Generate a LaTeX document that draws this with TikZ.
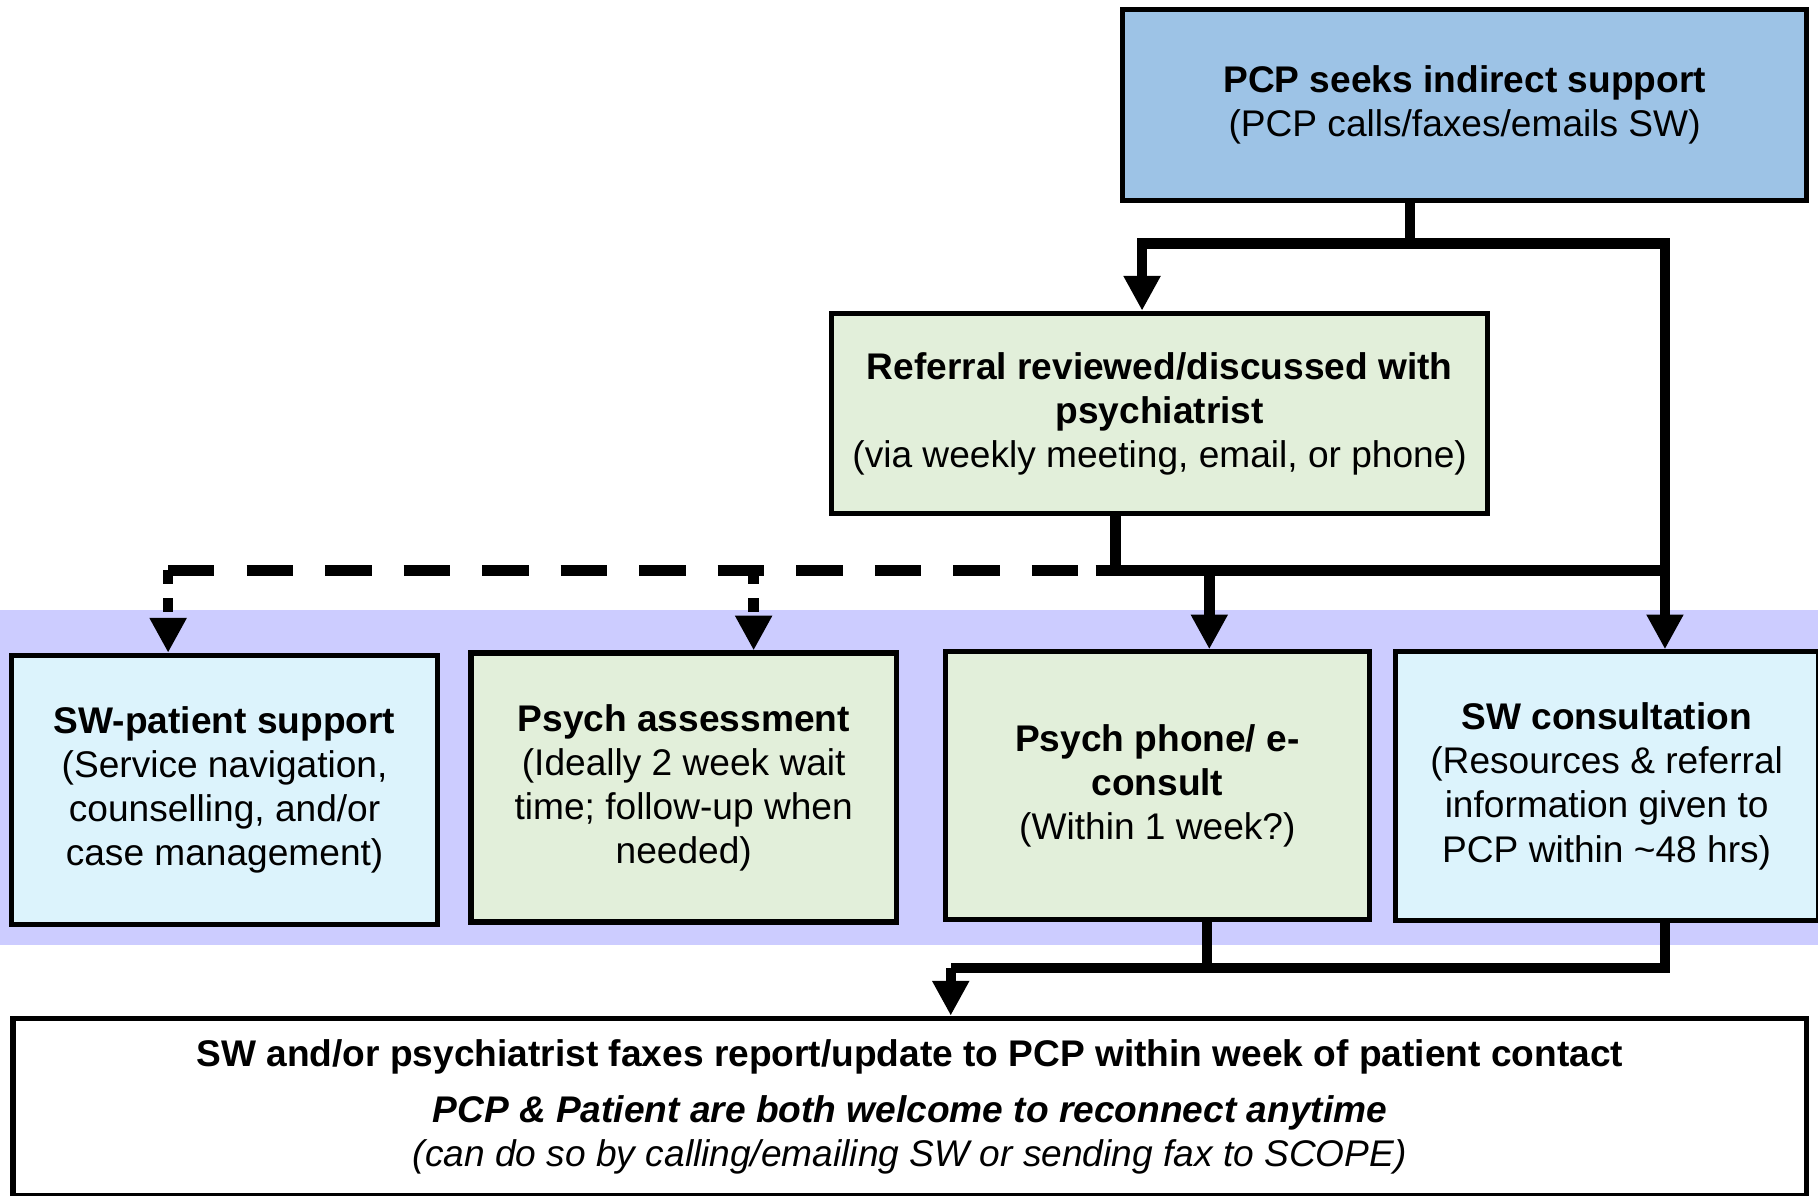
\documentclass[tikz,border=0pt]{standalone}
\usepackage{fontspec}
\setmainfont{Liberation Sans}
\usetikzlibrary{arrows.meta}
\definecolor{pcpblue}{RGB}{157,195,230}
\definecolor{boxgreen}{RGB}{226,239,218}
\definecolor{boxcyan}{RGB}{220,243,252}
\definecolor{bandlav}{RGB}{204,204,255}
\tikzset{
  box/.style={draw=black, line width=2.2pt, inner sep=0pt, align=center,
    font=\fontsize{16}{19}\selectfont, anchor=north west},
  conn/.style={line width=4.5pt, line join=miter, line cap=butt},
  tip/.style={-{Triangle[width=15pt,length=15pt]}},
  dashconn/.style={line width=4.5pt, dash pattern=on 20pt off 13.86pt},
  dotconn/.style={line width=4.5pt, dash pattern=on 6pt off 6pt},
}
\begin{document}
\begin{tikzpicture}[x=0.5pt,y=-0.5pt]
\useasboundingbox (0,0) rectangle (1568,1031);
\fill[bandlav] (0,526) rectangle (1568,815);

\node[box, fill=pcpblue, minimum width=295pt, minimum height=82.5pt] (pcp) at (966,6)
  {\textbf{PCP seeks indirect support}\\(PCP calls/faxes/emails SW)};
\node[box, fill=boxgreen, minimum width=283pt, minimum height=86.5pt] (ref) at (715,268)
  {\textbf{Referral reviewed/discussed with}\\\textbf{psychiatrist}\\(via weekly meeting, email, or phone)};
\node[box, fill=boxcyan, minimum width=183.5pt, minimum height=116pt] (swp) at (8,563)
  {\textbf{SW-patient support}\\(Service navigation,\\counselling, and/or\\case management)};
\node[box, fill=boxgreen, minimum width=183.5pt, minimum height=116pt] (psa) at (404,561)
  {\textbf{Psych assessment}\\(Ideally 2 week wait\\time; follow-up when\\needed)};
\node[box, fill=boxgreen, minimum width=183pt, minimum height=115.5pt] (ph) at (813,560)
  {\textbf{Psych phone/ e-}\\\textbf{consult}\\(Within 1 week?)};
\node[box, fill=boxcyan, minimum width=182.5pt, minimum height=116pt] (swc) at (1201,560)
  {\textbf{SW consultation}\\(Resources \& referral\\information given to\\PCP within \textasciitilde48 hrs)};
\node[box, fill=white, minimum width=773.5pt, minimum height=76.5pt] (fin) at (9,876)
  {\textbf{SW and/or psychiatrist faxes report/update to PCP within week of patient contact}\\[5.5pt]
   \textbf{\textit{PCP \& Patient are both welcome to reconnect anytime}}\\
   \textit{(can do so by calling/emailing SW or sending fax to SCOPE)}};

% junctions
\coordinate (t1) at (1216,210);
\coordinate (t2) at (985,210);
\coordinate (t3) at (1436,210);
\coordinate (r1) at (962,492);
\coordinate (r0) at (945,492);
\coordinate (r2) at (1043,492);
\coordinate (r3) at (1436,492);
\coordinate (d0) at (930,492);
\coordinate (d1) at (145,492);
\coordinate (d2) at (650,492);
\coordinate (b0) at (820,835);
\coordinate (b1) at (1041,835);
\coordinate (b2) at (1436,835);

\draw[conn] (pcp.south -| t1) -- (t1);
\draw[conn,tip] (t1) -- (t2) -- (ref.north -| t2);
\draw[conn,tip] (t1) -- (t3) -- (swc.north -| t3);

\draw[conn] (ref.south -| r1) -- (r1);
\draw[conn] (r0) -- (r3);
\draw[conn,tip] (r2) -- (ph.north -| r2);
\draw[dashconn] (d1) -- (d0);
\draw[dotconn,tip] (d1) -- (swp.north -| d1);
\draw[dotconn,tip] (d2) -- (psa.north -| d2);

\draw[conn] (ph.south -| b1) -- (b1);
\draw[conn] (swc.south -| b2) -- (b2) -- (b0);
\draw[conn,tip] (b0) -- (fin.north -| b0);
\end{tikzpicture}
\end{document}
